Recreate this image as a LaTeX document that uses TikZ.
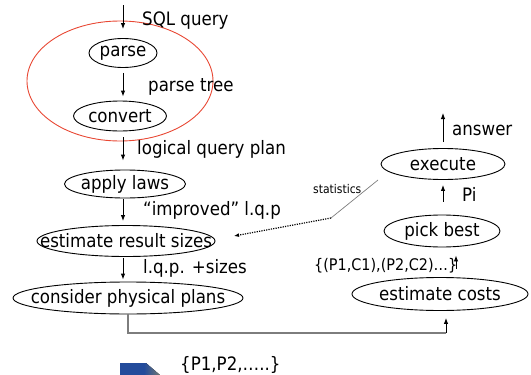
\documentclass[tikz,border=0pt]{standalone}
\usepackage{fontspec}
\setmainfont{DejaVu Sans}[FakeStretch=0.9]
\usetikzlibrary{shapes.geometric,arrows.meta}
\definecolor{redline}{RGB}{232,72,52}
\definecolor{connGray}{RGB}{125,125,125}
\definecolor{logoBlue}{RGB}{35,75,155}
\definecolor{logoYellow}{RGB}{250,200,40}
\pgfdeclarehorizontalshading{logoshade}{100bp}{color(0bp)=(logoBlue); color(55bp)=(logoBlue); color(80bp)=(logoBlue!55!logoYellow); color(100bp)=(logoYellow)}
\tikzset{
  ell/.style={draw, ellipse, inner sep=0pt, line width=0.9pt},
  intext/.style={inner sep=0pt, font=\fontsize{18.5}{22}\selectfont},
  lbl/.style={anchor=base west, inner sep=0pt, font=\fontsize{18.5}{22}\selectfont},
  lblmid/.style={anchor=base west, inner sep=0pt, font=\fontsize{16}{19}\selectfont},
  lblsmall/.style={anchor=base west, inner sep=0pt, font=\fontsize{12}{14}\selectfont},
  arr/.style={-{Latex[length=6pt,width=4.5pt]}, line width=0.9pt},
  conn/.style={draw=connGray, line width=1.8pt},
  dotarr/.style={-{Latex[length=5pt,width=4pt]}, line width=1.2pt, dash pattern=on 1.2pt off 1.2pt},
}
\begin{document}
\begin{tikzpicture}[x=1pt,y=-1pt]
\useasboundingbox (0,0) rectangle (531,375);
% group ellipse
\node[ell, draw=redline, minimum width=186pt, minimum height=120pt] (grp) at (120,81) {};
% left column
\node[ell, minimum width=68pt, minimum height=29pt, label={[intext]center:parse}] (parse) at (123,53) {};
\node[ell, minimum width=93pt, minimum height=30pt, label={[intext]center:convert}] (convert) at (120,116) {};
\node[ell, minimum width=121pt, minimum height=28pt, label={[intext]center:apply laws}] (apply) at (125,184) {};
\node[ell, minimum width=178pt, minimum height=31pt, label={[intext]center:estimate result sizes}] (sizes) at (126,241) {};
\node[ell, minimum width=230pt, minimum height=32pt, label={[intext]center:consider physical plans}] (consider) at (128,298) {};
% right column
\node[ell, minimum width=124pt, minimum height=31pt, label={[intext]center:execute}] (execute) at (443,164) {};
\node[ell, minimum width=116pt, minimum height=32pt, label={[intext]center:pick best}] (pick) at (442,231) {};
\node[ell, minimum width=176pt, minimum height=33pt, label={[intext]center:estimate costs}] (costs) at (440,294) {};
% coordinates
\coordinate (col) at (123,0);
\coordinate (rcol) at (443,0);
\coordinate (x456) at (456,0);
\coordinate (sqlin) at (123,5);
\coordinate (ans) at (443,113);
\coordinate (corner) at (446,333);
\coordinate (statA) at (378,180);
\coordinate (statB) at (331,218);
\coordinate (statC) at (234,236);
% left arrows
\draw[arr, shorten >=9pt] (sqlin) -- (parse.north);
\draw[arr, shorten <=5pt, shorten >=4pt] (parse.south) -- (convert.north -| col);
\draw[arr, shorten <=6pt, shorten >=9pt] (convert.south -| col) -- (apply.north -| col);
\draw[arr, shorten <=1pt, shorten >=4pt] (apply.south -| col) -- (sizes.north -| col);
\draw[arr, shorten <=1pt, shorten >=2pt] (sizes.south -| col) -- (consider.north -| col);
% right arrows
\draw[arr, shorten <=6pt] (execute.north) -- (ans);
\draw[arr, shorten <=13pt, shorten >=5pt] (pick.north -| rcol) -- (execute.south -| rcol);
\draw[arr, shorten <=8pt, shorten >=8pt] (costs.north -| x456) -- (pick.south -| x456);
% bottom connector
\draw[conn] (consider.south) |- (corner);
\draw[arr, shorten >=7pt] (corner) -- (costs.south -| corner);
% statistics
\draw[connGray, line width=0.7pt] (statA) -- (statB);
\draw[dotarr] (statB) -- (statC);
% labels
\node[lbl] (tsql) at (142,25) {SQL query};
\node[lbl] (tparse) at (148,91) {parse tree};
\node[lbl] (tlqp) at (137,154) {logical query plan};
\node[lbl] (timp) at (143,215) {“improved” l.q.p};
\node[lbl] (tsizes) at (143,273) {l.q.p. +sizes};
\node[lbl] (tans) at (452,135) {answer};
\node[lbl] (tpi) at (462,201) {Pi};
\node[lblsmall] (tstat) at (313,193) {statistics};
\node[lblmid] (tpc) at (314,270) {\{(P1,C1),(P2,C2)…\}};
\node[lbl] (tplans) at (180,370) {\{P1,P2,…..\}};
% logo fragment
\fill[shading=logoshade] (120,363) -- (146,363) -- (160,375) -- (120,375) -- cycle;
\end{tikzpicture}
\end{document}
